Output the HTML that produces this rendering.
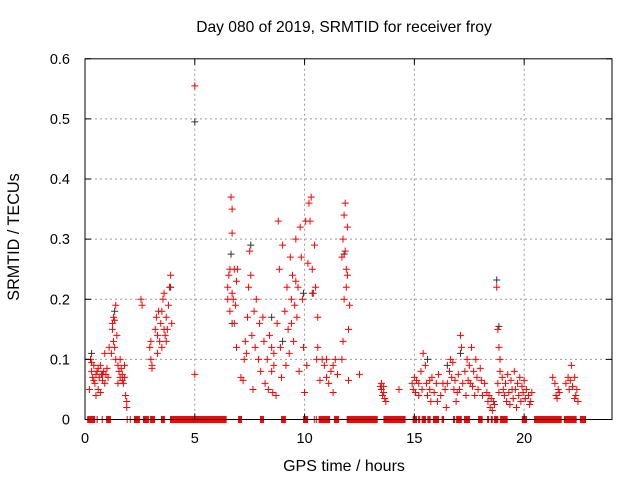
<!DOCTYPE html>
<html><head><meta charset="utf-8"><style>
body{margin:0;background:#fff}
svg{display:block;font-family:"Liberation Sans",sans-serif}
</style></head><body>
<svg id="chart" width="640" height="480" viewBox="0 0 640 480" xmlns="http://www.w3.org/2000/svg">
<rect width="640" height="480" fill="#fff"/>
<text x="344" y="32" font-size="15.6" text-anchor="middle" fill="#000">Day 080 of 2019, SRMTID for receiver froy</text>
<text x="19" y="237" font-size="16.2" text-anchor="middle" transform="rotate(-90 19 237)" fill="#000">SRMTID / TECUs</text>
<text x="344" y="471" font-size="16" text-anchor="middle" fill="#000">GPS time / hours</text>
<g id="grid"></g><g id="zeros"></g><g id="black"></g><g id="red"></g><g id="axes"></g>
</svg>
<script>
const xTicks=[0,5,10,15,20];
const yTicks=[0,0.1,0.2,0.3,0.4,0.5,0.6];
const yTickLabels=["0","0.1","0.2","0.3","0.4","0.5","0.6"];
const redT=[0.25,0.3,0.35,0.4,0.45,0.5,0.55,0.6,0.65,0.7,0.75,0.8,0.85,0.9,0.95,1.0,1.05,0.5,0.7,0.4,0.6,0.8,0.3,0.9,1.1,0.2,
1.2,1.25,1.3,1.35,1.4,1.3,1.45,1.35,1.4,1.25,
1.5,1.55,1.6,1.65,1.7,1.75,1.8,1.85,1.9,1.9,1.6,1.7,1.5,1.8,
2.55,2.6,3.0,3.0,3.05,2.95,3.05,
3.2,3.25,3.3,3.35,3.4,3.45,3.5,3.55,3.6,3.65,3.7,3.75,3.8,3.85,3.9,3.95,3.5,3.3,3.6,3.7,
5.0,5.0,
6.5,6.55,6.6,6.65,6.7,6.7,6.75,6.8,6.85,6.9,6.6,6.7,6.8,6.9,6.95,6.5,
7.1,7.2,7.25,7.3,7.35,7.4,7.45,7.5,7.55,7.6,7.65,7.7,7.75,7.8,7.9,7.95,
8.0,8.1,8.15,8.2,8.3,8.35,8.4,8.5,8.55,8.6,8.7,8.75,8.8,8.85,8.9,8.95,8.6,8.5,
9.0,9.1,9.15,9.2,9.25,9.3,9.35,9.4,9.45,9.5,9.55,9.6,9.65,9.7,9.75,9.8,9.85,9.9,9.95,10.0,9.4,9.6,
10.05,10.1,10.15,10.2,10.25,10.3,10.35,10.4,10.45,10.5,10.55,10.6,10.6,
10.7,10.8,10.9,11.0,11.1,11.2,11.3,11.4,11.5,11.3,11.0,
11.7,11.75,11.8,11.85,11.9,11.95,11.8,11.85,11.9,12.0,12.05,11.75,11.7,11.95,12.0,
12.5,
13.45,13.5,13.55,13.6,13.65,13.7,13.5,13.6,
14.3,
14.9,14.95,15.0,15.05,15.1,15.2,15.3,15.35,15.4,15.5,15.55,15.6,15.7,15.75,15.8,15.9,16.0,16.05,16.1,16.2,16.3,16.4,16.45,15.2,15.7,
16.5,16.6,16.65,16.7,16.75,16.8,16.85,16.9,17.0,17.05,17.1,17.15,17.2,17.3,17.35,17.4,17.45,16.95,
17.5,17.55,17.6,17.65,17.7,17.75,17.8,17.85,17.9,18.0,18.05,18.1,18.2,
18.3,18.35,18.4,18.45,18.5,18.55,18.6,18.65,
18.75,18.8,18.85,18.9,18.9,18.8,18.85,
19.0,19.05,19.1,19.15,19.2,19.25,19.3,19.35,19.4,19.5,19.55,19.6,19.65,19.7,19.75,19.8,19.85,19.9,19.95,20.0,20.05,20.1,20.2,20.25,20.3,20.35,19.45,
21.4,21.45,21.5,21.55,21.6,21.3,
21.9,22.0,22.05,22.1,22.15,22.2,22.3,22.35,22.4,22.45,22.3];
const redV=[.10,.08,.07,.09,.06,.075,.08,.05,.07,.09,.075,.065,.08,.11,.075,.085,.07,.04,.045,.065,.085,.075,.095,.06,.12,.05,
.11,.15,.17,.165,.19,.13,.14,.12,.10,.16,
.09,.08,.07,.085,.065,.06,.09,.04,.02,.03,.1,.075,.06,.07,
.2,.19,.13,.10,.09,.12,.085,
.15,.17,.14,.18,.13,.16,.12,.2,.21,.14,.17,.15,.19,.22,.24,.16,.18,.11,.15,.13,
.555,.075,
.22,.24,.25,.37,.35,.31,.2,.25,.19,.23,.18,.21,.16,.12,.25,.2,
.07,.065,.1,.13,.11,.17,.22,.28,.24,.14,.05,.18,.12,.2,.1,.16,
.08,.17,.13,.06,.1,.05,.14,.08,.045,.11,.04,.16,.33,.25,.12,.07,.09,.12,
.29,.18,.09,.22,.15,.11,.27,.2,.24,.13,.19,.3,.17,.22,.08,.32,.27,.2,.12,.045,.16,.23,
.33,.09,.26,.36,.33,.37,.25,.21,.29,.22,.1,.12,.17,
.065,.1,.09,.07,.06,.08,.09,.1,.075,.045,.1,
.27,.3,.34,.36,.25,.32,.2,.28,.22,.15,.19,.13,.1,.24,.065,
.075,
.055,.05,.04,.045,.035,.03,.06,.055,
.05,
.06,.05,.07,.045,.065,.06,.08,.05,.11,.09,.06,.04,.05,.03,.07,.045,.06,.03,.075,.04,.06,.05,.02,.04,.065,
.06,.08,.1,.07,.095,.05,.065,.03,.075,.05,.14,.12,.06,.08,.04,.1,.065,.045,
.09,.06,.12,.055,.08,.04,.1,.07,.05,.085,.065,.04,.06,
.045,.03,.04,.02,.035,.015,.03,.025,
.22,.15,.12,.1,.08,.06,.045,
.07,.05,.04,.06,.03,.075,.045,.025,.065,.035,.08,.05,.02,.06,.04,.07,.03,.055,.045,.065,.035,.05,.04,.025,.03,.045,.05,
.06,.04,.035,.05,.045,.07,
.06,.07,.05,.065,.09,.055,.035,.04,.05,.03,.07];
const blackT=[5.0,18.75,1.35,3.9,6.65,7.55,6.7,9.95,10.35,8.5,9.0,11.8,18.85,0.3,15.6,16.5,17.1];
const blackV=[.495,.232,.18,.22,.275,.29,.16,.21,.21,.17,.13,.275,.155,.11,.1,.09,.11];
const zeroStart=[0.10,0.53,0.76,0.96,1.90,2.04,2.23,2.64,2.96,3.46,3.87,6.97,7.97,8.93,9.93,10.42,10.51,10.64,11.34,11.92,13.59,14.92,15.17,15.33,15.59,15.85,16.24,16.76,16.9,17.26,17.9,18.31,18.48,18.63,18.9,19.89,20.45,21.81,22.54];
const zeroEnd=[0.46,0.58,0.81,1.18,1.94,2.08,2.50,2.91,3.19,3.64,6.45,7.15,8.15,9.15,10.16,10.46,10.55,11.16,11.57,13.33,14.6,15.12,15.26,15.53,15.74,16.12,16.35,16.85,17.16,17.53,18.11,18.4,18.57,18.82,19.25,20.13,21.71,22.39,22.82];

const L=85,R=612,T=58.8,B=419.5;
const xs=t=>L+t*(R-L)/24;
const ys=v=>B-v*(B-T)/0.6;
const NS="http://www.w3.org/2000/svg";
function mk(tag,attrs,parent){const e=document.createElementNS(NS,tag);for(const k in attrs)e.setAttribute(k,attrs[k]);document.getElementById(parent).appendChild(e);return e;}
function cross(x,y,c,parent,name){
  const p=mk('path',{d:`M${x-3.5} ${y}H${x+3.5}M${x} ${y-3.5}V${y+3.5}`,stroke:c,'stroke-width':1,fill:'none'},parent);
  
  
}
xTicks.forEach(t=>{
  const x=xs(t);
  if(t>0){const g=mk('line',{x1:x,x2:x,y1:T,y2:B,stroke:'#999','stroke-dasharray':'2,3'},'grid');
    
    }
  const tk=mk('path',{d:`M${x} ${B}V${B-6}M${x} ${T}V${T+6}`,stroke:'#000'},'axes');
  
  
  const lb=mk('text',{x:x,y:443,'font-size':14.5,'text-anchor':'middle'},'axes');lb.textContent=t;
  
  
});
yTicks.forEach((v,i)=>{
  const y=ys(v);
  if(v>0&&v<0.6){const g=mk('line',{x1:L,x2:R,y1:y,y2:y,stroke:'#999','stroke-dasharray':'2,3'},'grid');
    
    }
  const tk=mk('path',{d:`M${L} ${y}H${L+6}M${R} ${y}H${R-6}`,stroke:'#000'},'axes');
  
  
  const lb=mk('text',{x:70,y:y+5,'font-size':14.5,'text-anchor':'end'},'axes');lb.textContent=yTickLabels[i];
  
  
});
const fr=mk('rect',{x:L,y:T,width:R-L,height:B-T,fill:'none',stroke:'#000','stroke-width':1},'axes');


zeroStart.forEach((s,i)=>{
  const x1=xs(s),x2=xs(zeroEnd[i]);
  const r=mk('rect',{x:x1,y:B-3.5,width:Math.max(1,x2-x1),height:7,fill:'#f00'},'zeros');
  
  
});
blackT.forEach((t,i)=>cross(xs(t),ys(blackV[i]),'#333','black','black-point'));
redT.forEach((t,i)=>cross(xs(t),ys(redV[i]),'#f00','red','red-point'));
</script>
</body></html>
